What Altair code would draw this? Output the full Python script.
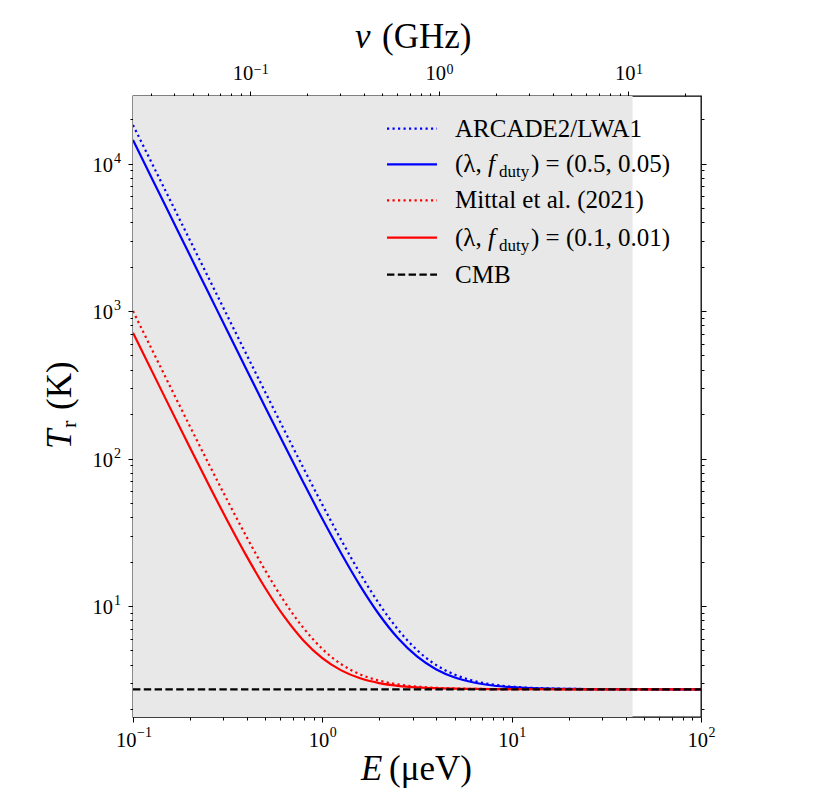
import altair as alt
import pandas as pd

# ---------------- data ----------------
E = [0.1, 0.1259, 0.1585, 0.1995, 0.2512, 0.3162, 0.3981, 0.5012, 0.631, 0.7943,
     1.0, 1.259, 1.585, 1.995, 2.512, 3.162, 3.981, 5.012, 6.31, 7.943,
     10.0, 12.59, 15.85, 19.95, 25.12, 31.62, 39.81, 50.12, 63.1, 79.43, 100.0]
T_arcade = [18263, 10040, 5519, 3036, 1670, 918.9, 506.4, 279.5, 154.9, 86.4,
            48.7, 28.0, 16.6, 10.36, 6.92, 5.03, 3.99, 3.42, 3.108, 2.936,
            2.841, 2.789, 2.760, 2.744, 2.736, 2.731, 2.728, 2.727, 2.726, 2.725, 2.725]
T_blue = [14431, 7933, 4362, 2399, 1320, 726.4, 400.6, 221.4, 122.9, 68.8,
          39.0, 22.7, 13.7, 8.76, 6.04, 4.55, 3.73, 3.276, 3.028, 2.891,
          2.816, 2.775, 2.753, 2.740, 2.733, 2.730, 2.7275, 2.726, 2.725, 2.725, 2.725]
T_mittal = [999.7, 548.1, 301.0, 165.9, 92.0, 51.6, 29.4, 17.3, 10.7, 7.10,
            5.12, 4.03, 3.44, 3.12, 2.94, 2.842, 2.789, 2.760, 2.744, 2.7355,
            2.731, 2.728, 2.727, 2.726, 2.725, 2.725, 2.725, 2.725, 2.725, 2.725, 2.725]
T_red = [713.7, 391.6, 215.5, 119.1, 66.4, 37.6, 21.8, 13.15, 8.43, 5.84,
         4.43, 3.66, 3.235, 3.004, 2.878, 2.809, 2.771, 2.750, 2.739, 2.732,
         2.729, 2.727, 2.726, 2.725, 2.725, 2.725, 2.725, 2.725, 2.725, 2.725, 2.725]
E_cmb = [0.1, 100.0]
T_cmb = [2.725, 2.725]
shade_E = [0.1, 43.5]          # shaded band (µeV)

E_domain = [0.1, 100.0]
T_domain = [1.768, 28730.0]
nu_domain = [0.1 / 4.1357, 100.0 / 4.1357]   # GHz, top axis

x_major = [0.1, 1.0, 10.0, 100.0]
y_major = [10.0, 100.0, 1000.0, 10000.0]
nu_major = [0.1, 1.0, 10.0]
x_minor = [m * 10.0 ** k for k in range(-1, 2) for m in range(2, 10)]
y_minor = [m * 10.0 ** k for k in range(0, 5) for m in range(2, 10) if m * 10.0 ** k < 28730]
nu_minor = [m * 10.0 ** k for k in range(-2, 2) for m in range(2, 10)
            if nu_domain[0] < m * 10.0 ** k < nu_domain[1]]

labels_legend = ["ARCADE2/LWA1", "(λ, ", "Mittal et al. (2021)", "CMB"]
params_blue = ") = (0.5, 0.05)"
params_red = ") = (0.1, 0.01)"

# ---------------- styling ----------------
W, H = 568, 621
FONT = "Liberation Serif"
xs = alt.Scale(type="log", domain=E_domain, nice=False, zero=False)
ys = alt.Scale(type="log", domain=T_domain, nice=False, zero=False)
nus = alt.Scale(type="log", domain=nu_domain, nice=False, zero=False)

exp_expr = ("datum.value < 0.5 ? '−1' : datum.value < 5 ? '0' : datum.value < 50 ? '1' : "
            "datum.value < 500 ? '2' : datum.value < 5000 ? '3' : '4'")

BASE_FS = 20.5
EXP_FS = 14

common_axis = dict(domain=False, grid=False, tickColor="black", tickWidth=1,
                   labelFont=FONT, labelColor="black", title=None,
                   labelOverlap=False, labelFlush=False, labelBound=False)


def cond_off(neg, other):
    return {"condition": {"test": "datum.value < 0.5", "value": neg}, "value": other}


def base_axis_h(orient, vals, pad):
    return alt.Axis(orient=orient, values=vals, tickSize=5, labelExpr="'10'",
                    labelFontSize=BASE_FS, labelAlign="right", labelPadding=pad,
                    labelOffset=cond_off(3.0, 6.5), **common_axis)


def exp_axis_h(orient, vals, pad):
    return alt.Axis(orient=orient, values=vals, tickSize=0, labelExpr=exp_expr,
                    labelFontSize=EXP_FS, labelAlign="left", labelPadding=pad,
                    labelOffset=cond_off(3.5, 7.0), **common_axis)


def minor_axis(orient, vals):
    return alt.Axis(orient=orient, values=vals, tickSize=3, labels=False, **common_axis)


dummy = pd.DataFrame({"E": [1.0], "T": [10.0], "nu": [1.0]})


def xaxis_layer(field, scale, axis):
    return alt.Chart(dummy).mark_point(opacity=0).encode(
        x=alt.X(f"{field}:Q", scale=scale, axis=axis))


def yaxis_layer(axis):
    return alt.Chart(dummy).mark_point(opacity=0).encode(
        y=alt.Y("T:Q", scale=ys, axis=axis))


layers = []

# shaded band
shade_df = pd.DataFrame({"E0": [shade_E[0]], "E1": [shade_E[1]]})
layers.append(alt.Chart(shade_df).mark_rect(color="#e8e8e8").encode(
    x=alt.X("E0:Q", scale=xs, axis=None), x2="E1:Q",
    y=alt.value(0), y2=alt.value(H)))

# curves (matplotlib plotting order)
DOT = [2.2, 3.3]
DASH = [7.4, 3.4]
curves = [
    (E, T_arcade, "#0000ff", DOT),
    (E, T_blue, "#0000ff", None),
    (E, T_mittal, "#ff0000", DOT),
    (E, T_red, "#ff0000", None),
    (E_cmb, T_cmb, "#000000", DASH),
]
for ex, ty, col, dash in curves:
    df = pd.DataFrame({"E": ex, "T": ty})
    kw = dict(color=col, strokeWidth=2.2, clip=True, strokeCap="butt", interpolate="monotone")
    if dash is not None:
        kw["strokeDash"] = dash
    layers.append(alt.Chart(df).mark_line(**kw).encode(
        x=alt.X("E:Q", scale=xs, axis=None),
        y=alt.Y("T:Q", scale=ys, axis=None)))

# axes: bottom (E)
layers.append(xaxis_layer("E", xs, base_axis_h("bottom", x_major, 8)))
layers.append(xaxis_layer("E", xs, exp_axis_h("bottom", x_major, 8)))
layers.append(xaxis_layer("E", xs, minor_axis("bottom", x_minor)))
# top (nu)
layers.append(xaxis_layer("nu", nus, base_axis_h("top", nu_major, 8)))
layers.append(xaxis_layer("nu", nus, exp_axis_h("top", nu_major, 20)))
layers.append(xaxis_layer("nu", nus, minor_axis("top", nu_minor)))
# left (T)
layers.append(yaxis_layer(alt.Axis(orient="left", values=y_major, tickSize=5,
                                   labelExpr="'10'", labelFontSize=BASE_FS,
                                   labelAlign="right", labelBaseline="middle",
                                   labelPadding=15.5, labelOffset=1.5, **common_axis)))
layers.append(yaxis_layer(alt.Axis(orient="left", values=y_major, tickSize=0,
                                   labelExpr=exp_expr, labelFontSize=EXP_FS,
                                   labelAlign="right", labelBaseline="middle",
                                   labelPadding=12.5, labelOffset=-5.5, **common_axis)))
layers.append(yaxis_layer(minor_axis("left", y_minor)))
# right (ticks only)
layers.append(yaxis_layer(alt.Axis(orient="right", values=y_major, tickSize=5,
                                   labels=False, **common_axis)))
layers.append(yaxis_layer(minor_axis("right", y_minor)))

one = pd.DataFrame({"a": [0]})


def txt(s, x, y, size, style="normal", angle=0, baseline="alphabetic", align="left"):
    return alt.Chart(one).mark_text(
        text=s, font=FONT, fontSize=size, fontStyle=style, color="black",
        align=align, baseline=baseline, angle=angle).encode(
        x=alt.value(x), y=alt.value(y))


# axis titles
TFS = 35
layers.append(txt("E", 228, 684, TFS, style="italic"))
layers.append(txt("(μeV)", 256, 684, TFS))
layers.append(txt("ν", 222, -48, TFS, style="italic"))
layers.append(txt("(GHz)", 249, -48, TFS))
layers.append(txt("T", -62, 353, TFS, style="italic", angle=270))
layers.append(txt("r", -57, 332, 22, angle=270))
layers.append(txt("(K)", -62, 314, TFS, angle=270))

# legend
rows = [32.6, 68.3, 104.3, 141.6, 178.6]
leg_styles = [("#0000ff", DOT), ("#0000ff", None), ("#ff0000", DOT),
              ("#ff0000", None), ("#000000", DASH)]
for yy, (col, dash) in zip(rows, leg_styles):
    kw = dict(color=col, strokeWidth=2.2, strokeCap="butt")
    if dash is not None:
        kw["strokeDash"] = dash
    layers.append(alt.Chart(one).mark_rule(**kw).encode(
        x=alt.value(254), x2=alt.value(304), y=alt.value(yy)))

TX = 322
LS = 25
layers.append(txt(labels_legend[0], TX, rows[0] + 8, LS))
layers.append(txt(labels_legend[2], TX, rows[2] + 8, LS))
layers.append(txt(labels_legend[3], TX, rows[4] + 8, LS))
for yy, vals in [(rows[1], params_blue), (rows[3], params_red)]:
    layers.append(txt(labels_legend[1], TX, yy + 8, LS))
    layers.append(txt("f", TX + 33, yy + 8, LS, style="italic"))
    layers.append(txt("duty", TX + 44, yy + 13, 17))
    layers.append(txt(vals, TX + 76, yy + 8, LS))

chart = alt.layer(*layers).resolve_scale(
    x="independent", y="independent").resolve_axis(
    x="independent", y="independent").properties(
    width=W, height=H,
    autosize=alt.AutoSizeParams(type="none"),
    padding={"left": 125, "top": 88, "right": 110, "bottom": 80},
    background="white",
).configure_view(stroke="black", strokeWidth=1.3)

chart.save("out.html", embed_options={"renderer": "svg", "actions": False})
